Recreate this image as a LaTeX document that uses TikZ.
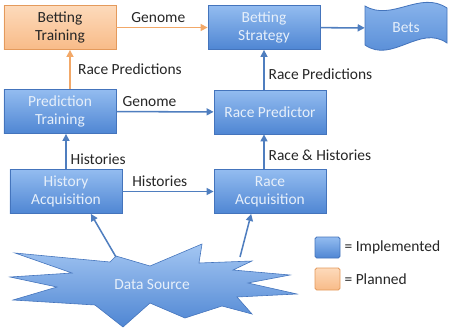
\documentclass[tikz,border=0pt]{standalone}
\usepackage{fontspec}
\setmainfont{Carlito}
\usetikzlibrary{arrows.meta, positioning, calc}
\definecolor{impltop}{HTML}{93BCF0}
\definecolor{implbot}{HTML}{4F86D3}
\definecolor{implline}{HTML}{4474BC}
\definecolor{impltext}{HTML}{E6EFFA}
\definecolor{implarrow}{HTML}{4F7EBF}
\definecolor{plantop}{HTML}{FDDABB}
\definecolor{planbot}{HTML}{F8BB88}
\definecolor{planline}{HTML}{E49A5C}
\definecolor{planarrow}{HTML}{F2A868}
\newcommand{\diagfont}{\fontsize{13.2}{15}\selectfont}

\begin{document}
\begin{tikzpicture}[
  x=0.03cm, y=-0.03cm,
  box/.style={
    rectangle, draw=implline, line width=0.7pt,
    top color=impltop, bottom color=implbot,
    minimum width=3.36cm, minimum height=1.32cm,
    align=center, text=impltext, font=\diagfont, inner sep=1pt
  },
  planbox/.style={box, draw=planline, top color=plantop, bottom color=planbot, text=black!85},
  arr/.style={-{Triangle[length=6pt, width=6pt]}, line width=1.3pt, implarrow},
  parr/.style={arr, planarrow},
  lbl/.style={font=\diagfont, text=black!85}
]
  \useasboundingbox (0,0) rectangle (453,332);

  % data source burst
  \shade[top color=impltop!85!white, bottom color=implbot, draw=implline, line width=0.5pt]
    (15,253) -- (110,262) -- (116,256) -- (150,266) -- (202,244) -- (199,263)
    -- (252,261) -- (233,270) -- (290,275) -- (248,283) -- (297,294) -- (237,297)
    -- (252,314) -- (222,306) -- (185,318) -- (150,303) -- (123,327) -- (95,305)
    -- (13,300) -- (57,287) -- (10,277) -- (72,273) -- cycle;
  \node[font=\diagfont, text=impltext] (src) at (152,285) {Data Source};
  \coordinate (srcl) at (116,257);
  \coordinate (srcr) at (240,257);

  % bets wave
  \shade[top color=impltop, bottom color=implbot, draw=implline, line width=0.7pt]
    (365,6) .. controls (392,22) and (420,-10) .. (447,8) -- (447,43)
    .. controls (420,24) and (392,64) .. (365,45) -- cycle;
  \node[font=\diagfont, text=impltext, minimum width=2.46cm, minimum height=1.2cm] (bets) at (406,28) {Bets};

  \node[planbox] (bt) at (60,27.5) {Betting\\Training};
  \node[box] (bs) at (264,27.5) {Betting\\Strategy};
  \node[box] (pt) at (60,111.5) {Prediction\\Training};
  \node[box] (rp) at (270,112) {Race Predictor};
  \node[box] (ha) at (66,191.5) {History\\Acquisition};
  \node[box] (ra) at (270,191.5) {Race\\Acquisition};

  \draw[parr] (bt) -- node[lbl, above, pos=0.46] {Genome} (bs);
  \draw[arr] (bs) -- (bets);
  \draw[parr] ($(pt.north)+(10,0)$) -- node[lbl, right, xshift=3pt] {Race Predictions} ($(bt.south)+(10,0)$);
  \draw[arr] (rp.north -| bs.south) -- node[lbl, right, pos=0.38] {Race Predictions} (bs.south);
  \draw[arr] (pt) -- node[lbl, above, pos=0.34] {Genome} (rp);
  \draw[arr] (ha.north) -- node[lbl, right, pos=0.27] {Histories} (ha.north |- pt.south);
  \draw[arr] (ha) -- node[lbl, above, pos=0.41] {Histories} (ra);
  \draw[arr] (ra.north -| bs.south) -- node[lbl, right, pos=0.39] {Race \& Histories} (rp.south -| bs.south);
  \draw[arr] (srcl) -- (ha.-42);
  \draw[arr] (srcr) -- (ra.-130);

  % legend
  \node[box, minimum width=0.75cm, minimum height=0.63cm, rounded corners=1.5pt] (legimpl) at (327.5,247.5) {};
  \node[planbox, minimum width=0.75cm, minimum height=0.66cm, rounded corners=1.5pt] (legplan) at (327.5,279) {};
  \node[lbl, right=0pt of legimpl] (legimpltext) {= Implemented};
  \node[lbl, right=0pt of legplan] (legplantext) {= Planned};
\end{tikzpicture}
\end{document}
